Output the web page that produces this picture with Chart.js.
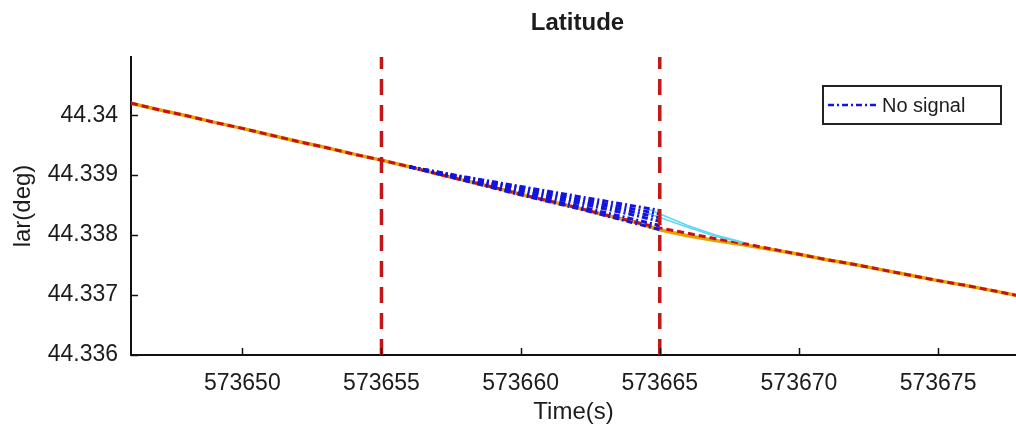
<!DOCTYPE html>
<html>
<head>
<meta charset="utf-8">
<script src="https://cdn.jsdelivr.net/npm/chart.js@4.4.1/dist/chart.umd.min.js"></script>
<style>
  html, body { margin: 0; padding: 0; background: #fff; }
  #wrap { width: 1016px; height: 429px; }
</style>
</head>
<body>
<div id="wrap"><canvas id="chart" width="1016" height="429"></canvas></div>
<script>
// chart data
const chartTitle = 'Latitude';
const xTitle = 'Time(s)';
const yTitle = 'lar(deg)';
const legendLabel = 'No signal';

const xTickValues = [573650, 573655, 573660, 573665, 573670, 573675];
const yTickValues = [44.336, 44.337, 44.338, 44.339, 44.34];
const outageMarks = [573655, 573665];

const times = [
    573646, 573647, 573648, 573649, 573650, 573651, 573652, 573653, 573654, 573655,
    573656, 573657, 573658, 573659, 573660, 573661, 573662, 573663, 573664, 573665,
    573666, 573667, 573668, 573669, 573670, 573671, 573672, 573673, 573674, 573675,
    573676, 573677, 573678
];
// reference trajectory (red dashed)
const truthLat = [
    44.34020, 44.34009, 44.33999, 44.33988, 44.33978, 44.33967, 44.33956, 44.33946, 44.33935, 44.33925,
    44.33914, 44.33902, 44.33891, 44.33880, 44.33868, 44.33857, 44.33846, 44.33834, 44.33823, 44.33812,
    44.33803, 44.33794, 44.33786, 44.33777, 44.33768, 44.33759, 44.33751, 44.33742, 44.33733, 44.33724,
    44.33716, 44.33707, 44.33698
];
// receiver solution (yellow, under the red)
const receiverLat = [
    44.34020, 44.34009, 44.33999, 44.33988, 44.33978, 44.33967, 44.33956, 44.33946, 44.33935, 44.33925,
    44.33914, 44.33902, 44.33891, 44.33880, 44.33868, 44.33857, 44.33846, 44.33834, 44.33823, 44.33809,
    44.33799, 44.33791, 44.33784, 44.33776, 44.33768, 44.33759, 44.33751, 44.33742, 44.33733, 44.33724,
    44.33716, 44.33707, 44.33698
];

// runs without signal (blue dash-dot)
const noSignalTimes = [573656, 573658, 573660, 573662, 573664, 573665];
const noSignalRuns = [
    [44.33914, 44.33897, 44.33881, 44.33865, 44.33849, 44.33841],
    [44.33914, 44.33896, 44.33879, 44.33861, 44.33844, 44.33835],
    [44.33914, 44.33895, 44.33876, 44.33858, 44.33839, 44.33829],
    [44.33914, 44.33894, 44.33873, 44.33854, 44.33834, 44.33823],
    [44.33914, 44.33892, 44.33870, 44.33849, 44.33827, 44.33816],
    [44.33914, 44.33891, 44.33867, 44.33845, 44.33821, 44.33809]
];

// recovery after signal is back (cyan)
const recoveryTimes = [573664.6, 573666, 573667, 573668];
const recoveryRuns = [
    [44.33843, 44.33816, 44.33800, 44.33788],
    [44.33836, 44.33813, 44.33798, 44.33787]
];

const FONT = '"Liberation Sans", Arial, sans-serif';
const TEXT = '#1c1c1c';

function toPoints(xs, ys) {
    return xs.map((x, i) => ({ x: x, y: ys[i] }));
}

function buildDatasets() {
    const sets = [];

    outageMarks.forEach(t => {
        sets.push({
            data: [{ x: t, y: yTickValues[0] }, { x: t, y: 44.341 }],
            borderColor: '#c41616',
            borderWidth: 3.5,
            borderDash: [16, 10],
            pointRadius: 0
        });
    });

    noSignalRuns.forEach(run => {
        sets.push({
            data: toPoints(noSignalTimes, run),
            borderColor: '#1414e0',
            borderWidth: 3,
            borderDash: [6, 3, 2, 3],
            pointRadius: 0
        });
    });

    recoveryRuns.forEach(run => {
        sets.push({
            data: toPoints(recoveryTimes, run),
            borderColor: '#5fd6f0',
            borderWidth: 1.5,
            pointRadius: 0
        });
    });

    sets.push({
        data: toPoints(times, truthLat),
        borderColor: '#cc1010',
        borderWidth: 3,
        borderDash: [7, 4],
        pointRadius: 0
    });

    sets.push({
        data: toPoints(times, receiverLat),
        borderColor: '#e3a400',
        borderWidth: 3.5,
        pointRadius: 0
    });

    return sets;
}

// title over the plot, inward ticks and the boxed legend
const decorPlugin = {
    id: 'decor',
    afterDraw(chart) {
        const { ctx, chartArea, scales } = chart;
        ctx.save();

        ctx.fillStyle = TEXT;
        ctx.font = 'bold 24px ' + FONT;
        ctx.textAlign = 'center';
        ctx.textBaseline = 'middle';
        ctx.fillText(chartTitle, (chartArea.left + chartArea.right) / 2 + 4, 23);

        ctx.strokeStyle = '#111';
        ctx.lineWidth = 1.5;
        ctx.beginPath();
        scales.y.ticks.forEach(t => {
            const y = Math.round(scales.y.getPixelForValue(t.value)) + 0.5;
            ctx.moveTo(chartArea.left, y);
            ctx.lineTo(chartArea.left + 7, y);
        });
        scales.x.ticks.forEach(t => {
            const x = Math.round(scales.x.getPixelForValue(t.value)) + 0.5;
            ctx.moveTo(x, chartArea.bottom);
            ctx.lineTo(x, chartArea.bottom - 7);
        });
        ctx.stroke();

        // legend box
        const bx = chartArea.right - 193, by = chartArea.top + 29, bw = 178, bh = 38;
        ctx.fillStyle = '#fff';
        ctx.fillRect(bx, by, bw, bh);
        ctx.strokeStyle = '#222';
        ctx.lineWidth = 2;
        ctx.strokeRect(bx, by, bw, bh);

        ctx.strokeStyle = '#1414e0';
        ctx.lineWidth = 2.5;
        ctx.setLineDash([6, 3, 2, 3]);
        ctx.beginPath();
        ctx.moveTo(bx + 5, by + bh / 2);
        ctx.lineTo(bx + 54, by + bh / 2);
        ctx.stroke();
        ctx.setLineDash([]);

        ctx.fillStyle = TEXT;
        ctx.font = '20px ' + FONT;
        ctx.textAlign = 'left';
        ctx.textBaseline = 'middle';
        ctx.fillText(legendLabel, bx + 59, by + bh / 2 + 1);

        ctx.restore();
    }
};

const chart = new Chart(document.getElementById('chart'), {
    type: 'line',
    data: { datasets: buildDatasets() },
    options: {
        responsive: false,
        animation: false,
        layout: { padding: { top: 57, right: 0, left: 0, bottom: 0 } },
        plugins: {
            legend: { display: false },
            tooltip: { enabled: false },
            title: { display: false }
        },
        scales: {
            x: {
                type: 'linear',
                min: 573646,
                max: 573677.8,
                afterBuildTicks: s => { s.ticks = xTickValues.map(v => ({ value: v })); },
                afterFit: s => { s.height = 74; },
                grid: { display: true, drawOnChartArea: false, drawTicks: false },
                border: { display: true, color: '#111', width: 2 },
                ticks: {
                    color: TEXT,
                    font: { family: FONT, size: 23 },
                    padding: 15,
                    maxRotation: 0,
                    callback: v => String(v)
                },
                title: {
                    display: true,
                    text: xTitle,
                    color: TEXT,
                    font: { family: FONT, size: 24 },
                    padding: { top: 0, bottom: 2 }
                }
            },
            y: {
                type: 'linear',
                min: 44.336,
                max: 44.34097,
                afterBuildTicks: s => { s.ticks = yTickValues.map(v => ({ value: v })); },
                afterFit: s => { s.width = 131; },
                grid: { display: true, drawOnChartArea: false, drawTicks: false },
                border: { display: true, color: '#111', width: 2 },
                ticks: {
                    color: TEXT,
                    font: { family: FONT, size: 23 },
                    padding: 13,
                    callback: v => String(parseFloat(v.toFixed(3)))
                },
                title: {
                    display: true,
                    text: yTitle,
                    color: TEXT,
                    font: { family: FONT, size: 24 },
                    padding: { top: 9, bottom: 0 }
                }
            }
        }
    },
    plugins: [decorPlugin]
});
</script>
</body>
</html>
